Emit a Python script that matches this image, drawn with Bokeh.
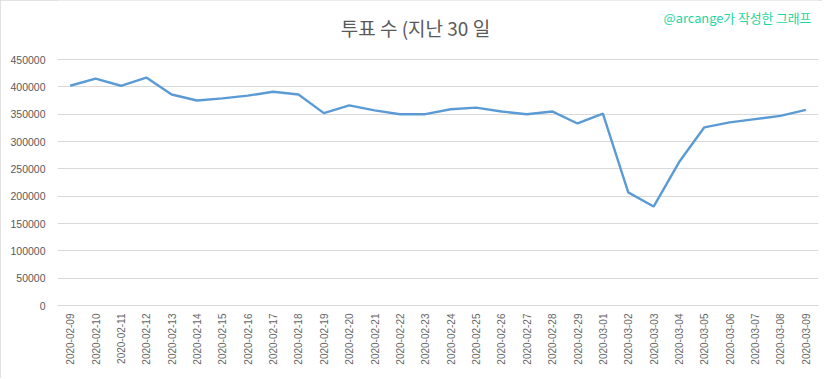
from bokeh.plotting import figure
from bokeh.models import Label, FixedTicker, NumeralTickFormatter, Range1d
from bokeh.embed import file_html
from bokeh.resources import INLINE

dates = ["2020-02-09", "2020-02-10", "2020-02-11", "2020-02-12", "2020-02-13",
         "2020-02-14", "2020-02-15", "2020-02-16", "2020-02-17", "2020-02-18",
         "2020-02-19", "2020-02-20", "2020-02-21", "2020-02-22", "2020-02-23",
         "2020-02-24", "2020-02-25", "2020-02-26", "2020-02-27", "2020-02-28",
         "2020-02-29", "2020-03-01", "2020-03-02", "2020-03-03", "2020-03-04",
         "2020-03-05", "2020-03-06", "2020-03-07", "2020-03-08", "2020-03-09"]
votes = [402000, 415000, 402000, 417000, 386000,
         375000, 379000, 384000, 391000, 386000,
         352000, 366000, 357000, 350000, 350000,
         359000, 362000, 355000, 350000, 355000,
         333000, 351000, 207000, 181000, 262000,
         326000, 335000, 341000, 347000, 358000]
y_ticks = [0, 50000, 100000, 150000, 200000, 250000, 300000, 350000, 400000, 450000]

title_text = "투표 수 (지난 30 일"
credit_text = "@arcange가 작성한 그래프"

p = figure(x_range=dates, width=822, height=378, output_backend="svg",
           toolbar_location=None, min_border_left=57, min_border_right=4,
           min_border_top=0, min_border_bottom=73,
           styles={"outline": "1px solid #d9d9d9", "outline-offset": "-1px"})
# frame extends above the top tick so the titles sit inside it
p.y_range = Range1d(0, 558000)
p.line(dates, votes, line_color="#5b9bd5", line_width=2.4)

p.outline_line_color = None
p.xgrid.grid_line_color = None
p.ygrid.grid_line_color = "#d9d9d9"
p.ygrid.grid_line_width = 1

p.yaxis.ticker = FixedTicker(ticks=y_ticks)
p.yaxis.formatter = NumeralTickFormatter(format="0")
p.yaxis.axis_line_color = None
p.yaxis.major_tick_line_color = None
p.yaxis.minor_tick_line_color = None
p.yaxis.major_tick_out = 0
p.yaxis.major_tick_in = 0
p.yaxis.major_label_text_font = "Liberation Sans"
p.yaxis.major_label_text_font_size = "10.5px"
p.yaxis.major_label_text_color = "#595959"
p.yaxis.major_label_standoff = 12

p.xaxis.axis_line_color = "#d9d9d9"
p.xaxis.major_tick_line_color = None
p.xaxis.minor_tick_line_color = None
p.xaxis.major_tick_out = 0
p.xaxis.major_tick_in = 0
p.xaxis.major_label_orientation = 1.5708
p.xaxis.major_label_text_font = "Liberation Sans"
p.xaxis.major_label_text_font_size = "10px"
p.xaxis.major_label_text_color = "#666666"
p.xaxis.major_label_standoff = 8

p.add_layout(Label(x=14.11, y=508500,
                   text=title_text, text_font="Noto Sans CJK KR",
                   text_font_size="19px", text_color="#595959",
                   text_align="center", text_baseline="middle"))
p.add_layout(Label(x=29.72, y=526800,
                   text=credit_text, text_font="Noto Sans CJK KR",
                   text_font_size="12.8px", text_color="#1cd6a2",
                   text_align="right", text_baseline="middle"))

open("out.html", "w").write(file_html(p, INLINE))
